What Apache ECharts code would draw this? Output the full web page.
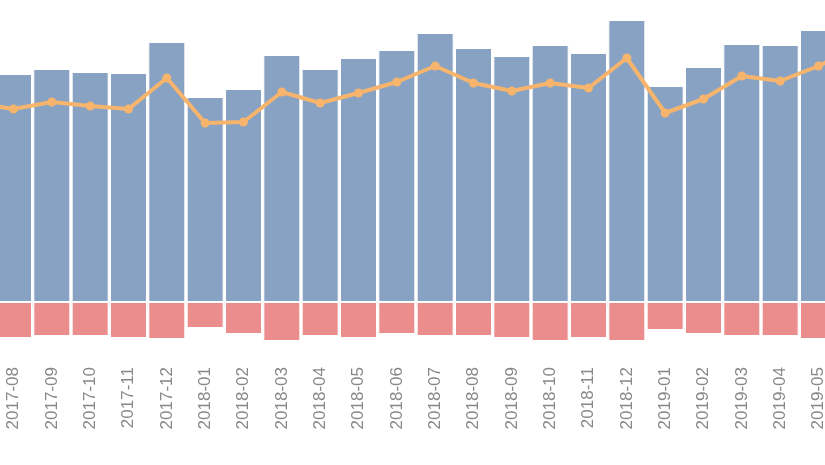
<!DOCTYPE html>
<html>
<head>
<meta charset="utf-8">
<script src="https://cdn.jsdelivr.net/npm/echarts@6/dist/echarts.min.js"></script>
<style>
    html, body { margin: 0; padding: 0; background: #fff; }
    #chart { width: 825px; height: 465px; }
</style>
</head>
<body>
<div id="chart"></div>
<script>
// months (first and last one sit just outside the picture)
var months = ['2017-07', '2017-08', '2017-09', '2017-10', '2017-11', '2017-12',
    '2018-01', '2018-02', '2018-03', '2018-04', '2018-05', '2018-06',
    '2018-07', '2018-08', '2018-09', '2018-10', '2018-11', '2018-12',
    '2019-01', '2019-02', '2019-03', '2019-04', '2019-05', '2019-06'];

var income = [null, 2280, 2330, 2300, 2290, 2600,
    2050, 2130, 2470, 2330, 2440, 2520,
    2690, 2540, 2460, 2570, 2490, 2820,
    2160, 2350, 2580, 2570, 2720, null];

var cost = [null, -360, -340, -340, -360, -370,
    -260, -320, -390, -340, -360, -320,
    -340, -340, -360, -390, -360, -390,
    -280, -320, -340, -340, -370, null];

var net = [1990, 1930, 2000, 1960, 1930, 2240,
    1790, 1800, 2100, 1990, 2090, 2200,
    2360, 2190, 2110, 2190, 2140, 2440,
    1890, 2030, 2260, 2210, 2360, 2550];

var myChart = echarts.init(document.getElementById('chart'));
var option = {
    animation: false,
    grid: {
        left: -44,
        right: -51,
        top: 0,
        height: 358,
        containLabel: false,
        outerBoundsMode: 'none'
    },
    xAxis: {
        type: 'category',
        data: months,
        axisLine: { show: false },
        axisTick: {
            show: true,
            length: 5,
            lineStyle: { color: '#eeeeee' }
        },
        axisLabel: {
            interval: 0,
            rotate: 90,
            margin: 9,
            color: '#888888',
            fontSize: 17,
            fontFamily: 'Liberation Sans'
        }
    },
    yAxis: {
        type: 'value',
        min: -560,
        max: 3020,
        show: false,
        splitLine: { show: false }
    },
    series: [{
        type: 'bar',
        stack: 'total',
        data: income,
        barWidth: 37,
        itemStyle: {
            color: '#87a2c3',
            borderColor: '#ffffff',
            borderWidth: 1
        }
    }, {
        type: 'bar',
        stack: 'total',
        data: cost,
        barWidth: 37,
        itemStyle: {
            color: '#ec8d8d',
            borderColor: '#ffffff',
            borderWidth: 1
        }
    }, {
        type: 'line',
        data: net,
        symbol: 'circle',
        symbolSize: 9,
        z: 5,
        lineStyle: { color: '#f6b46c', width: 4 },
        itemStyle: { color: '#f6b46c' }
    }]
};
myChart.setOption(option);
</script>
</body>
</html>
